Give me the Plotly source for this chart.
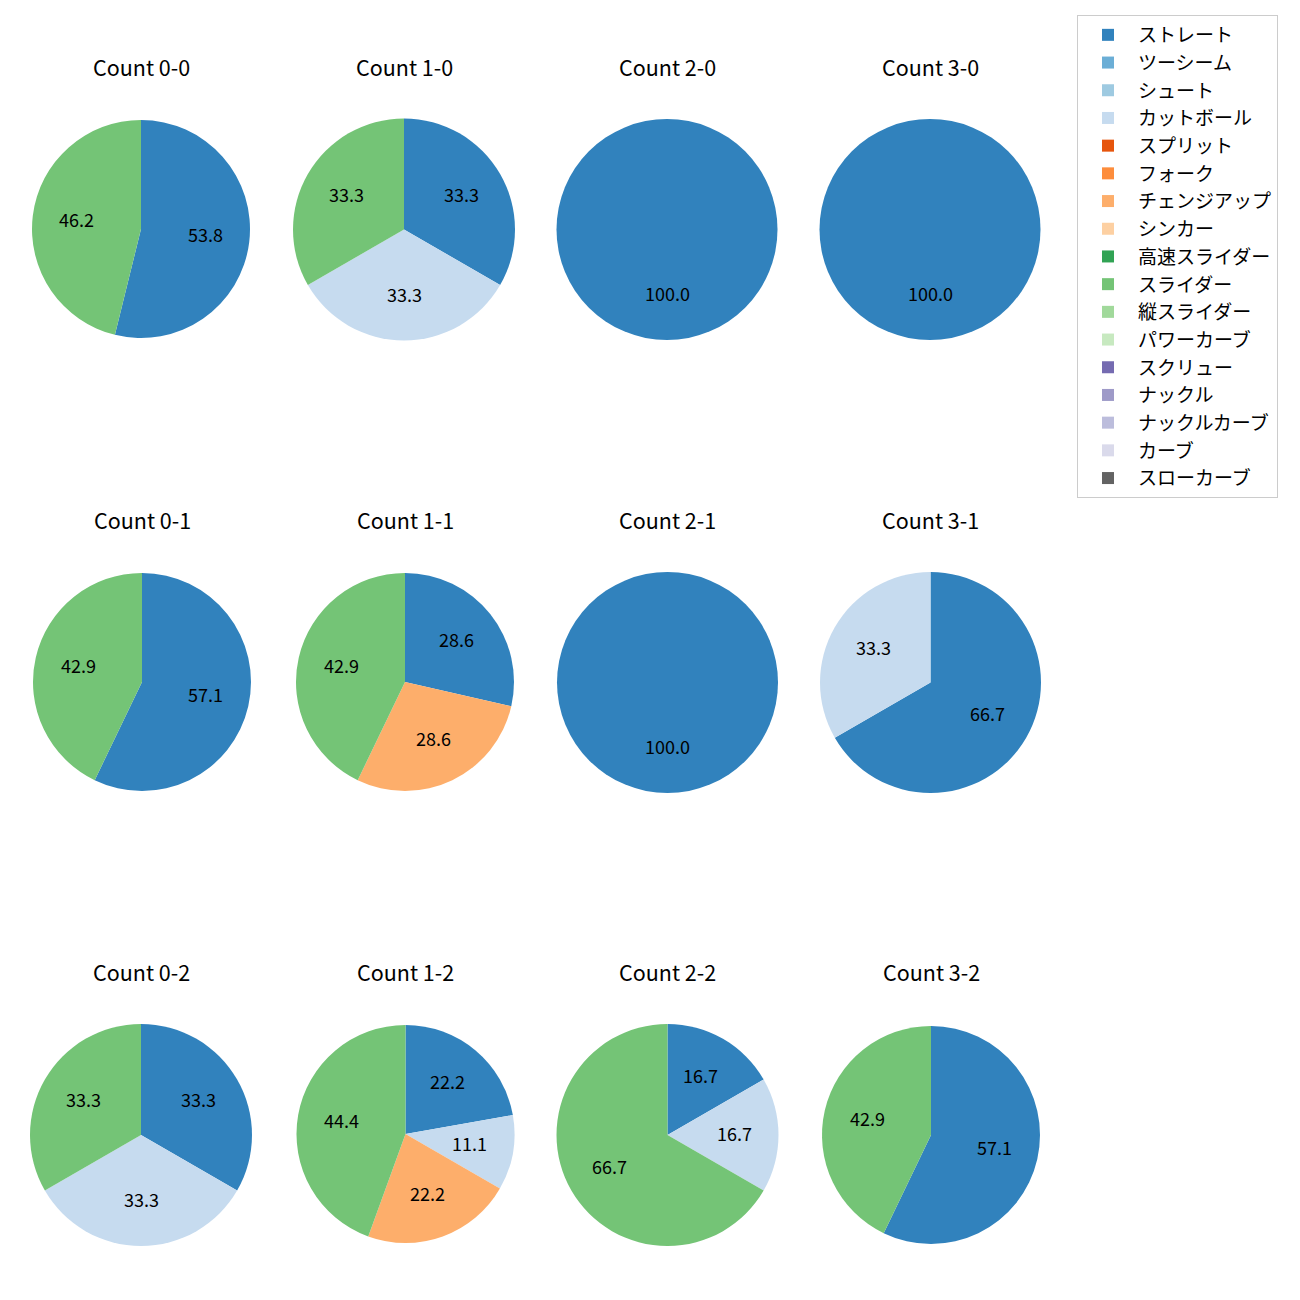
import math
import plotly.graph_objects as go

pitch_types = ["ストレート", "ツーシーム", "シュート", "カットボール", "スプリット", "フォーク",
               "チェンジアップ", "シンカー", "高速スライダー", "スライダー", "縦スライダー",
               "パワーカーブ", "スクリュー", "ナックル", "ナックルカーブ", "カーブ", "スローカーブ"]
colors = ["#3182bd", "#6baed6", "#9ecae1", "#c6dbef", "#e6550d", "#fd8d3c", "#fdae6b", "#fdd0a2",
          "#31a354", "#74c476", "#a1d99b", "#c7e9c0", "#756bb1", "#9e9ac8", "#bcbddc", "#dadaeb",
          "#636363"]

counts = ["0-0", "1-0", "2-0", "3-0", "0-1", "1-1", "2-1", "3-1", "0-2", "1-2", "2-2", "3-2"]
# pitch counts per situation (ストレート, カットボール, チェンジアップ, スライダー)
straight = [7, 1, 1, 1, 4, 2, 1, 2, 1, 2, 1, 4]
cutter   = [0, 1, 0, 0, 0, 0, 0, 1, 1, 1, 1, 0]
changeup = [0, 0, 0, 0, 0, 2, 0, 0, 0, 2, 0, 0]
slider   = [6, 1, 0, 0, 3, 3, 0, 0, 1, 4, 4, 3]

# layout (pixels, page coordinates; page has an 8px body margin)
OFF = 8
centers_x = [141, 404, 667, 930, 142, 405, 667.5, 930.5, 141, 405.5, 667.5, 931]
centers_y = [229, 229.5, 229.5, 229.5, 682, 682, 682.5, 682.5, 1135, 1134, 1135, 1135]
radii = [109, 111, 110.5, 110.5, 109, 109, 110.5, 110.5, 111, 109, 111, 109]
title_y = [69, 69, 69, 69, 521, 521, 521, 521, 973, 973, 973, 973]

W = H = 1300
fig = go.Figure()
annotations = []
for i, c in enumerate(counts):
    vals = [0] * len(pitch_types)
    vals[0] = straight[i]
    vals[3] = cutter[i]
    vals[6] = changeup[i]
    vals[9] = slider[i]
    cx, cy, r = centers_x[i] - OFF, centers_y[i] - OFF, radii[i]
    fig.add_trace(go.Pie(
        labels=pitch_types, values=vals, sort=False, direction="clockwise", rotation=0,
        marker=dict(colors=colors, line=dict(width=0)),
        textinfo="none", hoverinfo="label+percent",
        domain=dict(x=[(cx - r) / W, (cx + r) / W], y=[1 - (cy + r) / H, 1 - (cy - r) / H]),
        showlegend=True,
    ))
    total = sum(vals)
    cum = 0
    for v in vals:
        if v == 0:
            continue
        frac = v / total
        mid = math.radians(90 - 360 * (cum + frac / 2))
        px = cx + 0.6 * r * math.cos(mid)
        py = cy - 0.6 * r * math.sin(mid) - 2.5
        annotations.append(dict(x=px / W, y=1 - py / H, xref="paper", yref="paper",
                                text=f"{frac * 100:.1f}", showarrow=False,
                                font=dict(size=18, color="black"),
                                xanchor="center", yanchor="middle"))
        cum += frac
    annotations.append(dict(x=cx / W, y=1 - (title_y[i] - OFF - 2) / H, xref="paper", yref="paper",
                            text=f"Count {c}", showarrow=False,
                            font=dict(size=21.5, color="black"),
                            xanchor="center", yanchor="middle"))

fig.update_layout(
    width=W, height=H,
    margin=dict(l=0, r=0, t=0, b=0),
    paper_bgcolor="white", plot_bgcolor="white",
    font=dict(family="Noto Sans CJK JP, Noto Sans, sans-serif", color="black"),
    annotations=annotations,
    legend=dict(x=(1077 - OFF) / W, y=1 - (15 - OFF) / H, xanchor="left", yanchor="top",
                bordercolor="#cccccc", borderwidth=1, font=dict(size=19),
                traceorder="normal", itemwidth=50),
)
fig.write_html("out.html")
